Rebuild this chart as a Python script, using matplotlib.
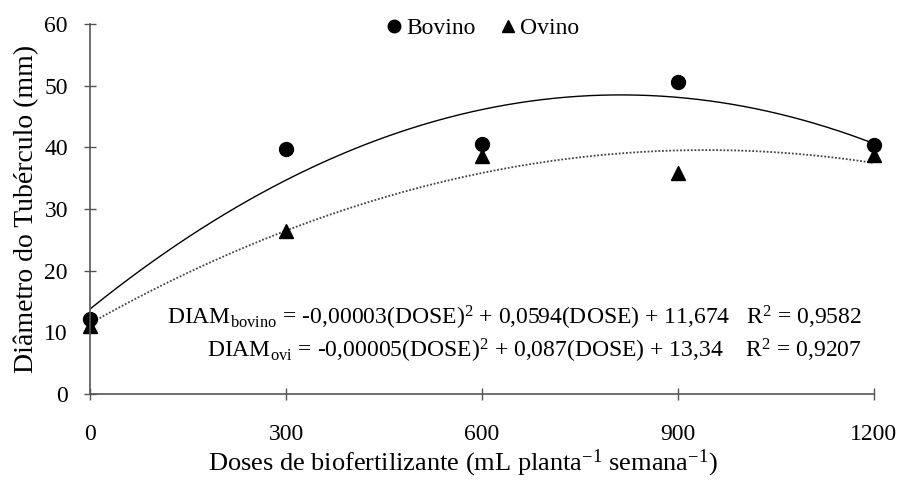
import numpy as np
import matplotlib
matplotlib.use("Agg")
import matplotlib.pyplot as plt

plt.rcParams['font.family'] = ['Liberation Serif', 'DejaVu Serif']
plt.rcParams['mathtext.fontset'] = 'custom'
plt.rcParams['mathtext.rm'] = 'Liberation Serif'
plt.rcParams['mathtext.it'] = 'Liberation Serif'
plt.rcParams['mathtext.default'] = 'regular'

# dados
doses = [0, 300, 600, 900, 1200]
bovino = [12.2, 39.7, 40.5, 50.6, 40.3]
ovino = [11.0, 26.4, 38.6, 35.9, 38.8]

# linhas de tendencia (polinomio de 2o grau, como no Excel)
x_fit = np.linspace(0, 1200, 200)
p_bov = np.polyfit(doses, bovino, 2)
p_ovi = np.polyfit(doses, ovino, 2)

fig = plt.figure(figsize=(9.01, 4.82), dpi=100)
ax = fig.add_axes([0.100, 0.183, 0.870, 0.767])

ax.plot(x_fit, np.polyval(p_bov, x_fit), color='black', lw=1.0)
ax.plot(x_fit, np.polyval(p_ovi, x_fit), color='#444444', lw=1.3, ls=(0, (1, 1)))
ax.plot(doses, bovino, 'o', color='black', ms=10, clip_on=False, label='Bovino')
ax.plot(doses, ovino, '^', color='black', ms=10, clip_on=False, label='Ovino')

ax.set_xlim(0, 1200)
ax.set_ylim(0, 60)
ax.set_xticks(doses)
ax.set_yticks(range(0, 61, 10))
ax.tick_params(direction='inout', length=8, width=1, colors='#555555',
               labelcolor='black', labelsize=17)
ax.tick_params(axis='x', pad=18)
ax.tick_params(axis='y', pad=12)
for s in ['top', 'right']:
    ax.spines[s].set_visible(False)
for s in ['left', 'bottom']:
    ax.spines[s].set_color('#555555')
    ax.spines[s].set_linewidth(1.2)

ax.set_ylabel('Diâmetro do Tubérculo (mm)', fontsize=20, labelpad=4)
ax.set_xlabel('Doses de biofertilizante (mL planta$^{-1}$ semana$^{-1}$)', fontsize=19)
ax.xaxis.set_label_coords(0.476, -0.145)

ax.legend(loc='upper center', bbox_to_anchor=(0.5, 1.075), ncol=2, frameon=False,
          fontsize=17, handlelength=0.8, handletextpad=0.1, columnspacing=1.0,
          markerscale=0.9)

ax.text(1182, 12.3, r'DIAM$_{bovino}$ = -0,00003(DOSE)$^{2}$ + 0,0594(DOSE) + 11,674   R$^{2}$ = 0,9582',
        ha='right', va='center', fontsize=17)
ax.text(1182, 7.0, r'DIAM$_{ovi}$ = -0,00005(DOSE)$^{2}$ + 0,087(DOSE) + 13,34    R$^{2}$ = 0,9207',
        ha='right', va='center', fontsize=17)

fig.savefig('out.png', dpi=100)
